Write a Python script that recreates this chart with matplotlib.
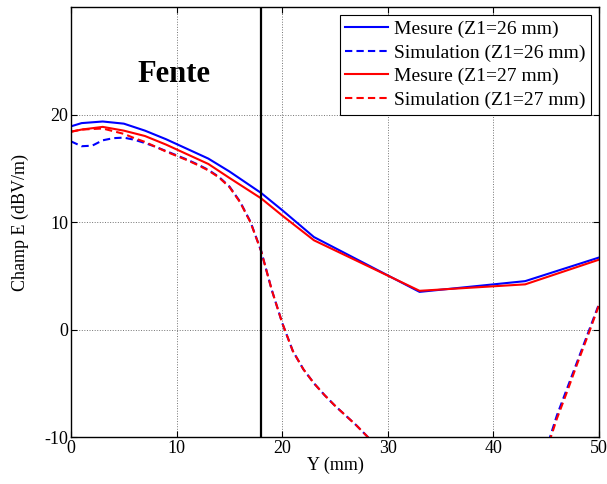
import matplotlib
matplotlib.use("Agg")
import matplotlib.pyplot as plt

plt.rcParams['font.family'] = ['Liberation Serif', 'DejaVu Serif']
plt.rcParams['axes.unicode_minus'] = False

# mesures (points mesures)
x_mes = [0, 1, 3, 5, 7, 9, 11, 13, 15, 18, 20, 23, 33, 43, 50]
mes_26 = [18.9, 19.2, 19.35, 19.15, 18.5, 17.7, 16.8, 15.9, 14.7, 12.7, 11.1, 8.6, 3.5, 4.5, 6.7]
mes_27 = [18.4, 18.6, 18.85, 18.5, 18.0, 17.2, 16.3, 15.4, 14.1, 12.2, 10.6, 8.3, 3.6, 4.2, 6.5]

# simulations
x_sim = [0, 1, 2, 3, 4, 5, 6, 7, 8, 9, 10, 11, 12, 13, 14, 15, 16, 17, 18, 19, 20,
         21, 22, 23, 24, 25, 26, 27, 28, 30, 35, 40, 44, 45, 46, 47, 48, 49, 50]
sim_26 = [17.5, 17.05, 17.1, 17.6, 17.8, 17.85, 17.65, 17.35, 17.0, 16.6, 16.2, 15.8,
          15.35, 14.85, 14.2, 13.3, 11.9, 10.0, 7.3, 3.7, 0.6, -2.0, -3.7, -5.0, -6.1,
          -7.1, -8.0, -8.9, -9.9, -12.0, -16.0, -16.0, -12.5, -11.1, -8.0, -5.4, -2.8, -0.2, 2.4]
sim_27 = [18.4, 18.6, 18.65, 18.7, 18.45, 18.2, 17.8, 17.45, 17.0, 16.55, 16.15, 15.75,
          15.3, 14.8, 14.15, 13.25, 11.85, 9.95, 7.3, 3.7, 0.6, -2.0, -3.7, -5.0, -6.1,
          -7.1, -8.0, -8.9, -9.9, -12.0, -16.0, -16.0, -12.7, -11.3, -8.3, -5.7, -3.0, -0.4, 2.3]

y_fente = 18

fig = plt.figure(figsize=(6.07, 4.84), dpi=100)
ax = fig.add_axes([0.117, 0.0971, 0.870, 0.8884])

ax.plot(x_mes, mes_26, color='blue', lw=1.5, label='Mesure (Z1=26 mm)')
ax.plot(x_sim, sim_26, color='blue', lw=1.5, ls='--', dashes=(3.5, 2), label='Simulation (Z1=26 mm)')
ax.plot(x_mes, mes_27, color='red', lw=1.5, label='Mesure (Z1=27 mm)')
ax.plot(x_sim, sim_27, color='red', lw=1.5, ls='--', dashes=(3.5, 2), label='Simulation (Z1=27 mm)')
ax.axvline(y_fente, color='black', lw=1.6)

ax.set_xlim(0, 50)
ax.set_ylim(-10, 30)
ax.set_xticks([0, 10, 20, 30, 40, 50])
ax.set_yticks([-10, 0, 10, 20])
ax.grid(True, color='0.45', ls=':', lw=0.7)
ax.tick_params(direction='in', top=True, right=True, length=4, labelsize=13, pad=2)
for s in ax.spines.values():
    s.set_linewidth(1.0)

ax.set_xlabel('Y (mm)', fontsize=13, labelpad=0)
ax.set_ylabel('Champ E (dBV/m)', fontsize=13, labelpad=11)

ax.text(6.3, 23.0, 'Fente', fontsize=22, fontweight='bold', ha='left', va='baseline')

ax.legend(loc='upper right', fontsize=14, frameon=True, fancybox=False, edgecolor='black',
          framealpha=1, borderaxespad=0.4, handlelength=2.2, handletextpad=0.3,
          borderpad=0.3, labelspacing=0.3).get_frame().set_linewidth(0.8)

fig.savefig('out.png', dpi=100)
